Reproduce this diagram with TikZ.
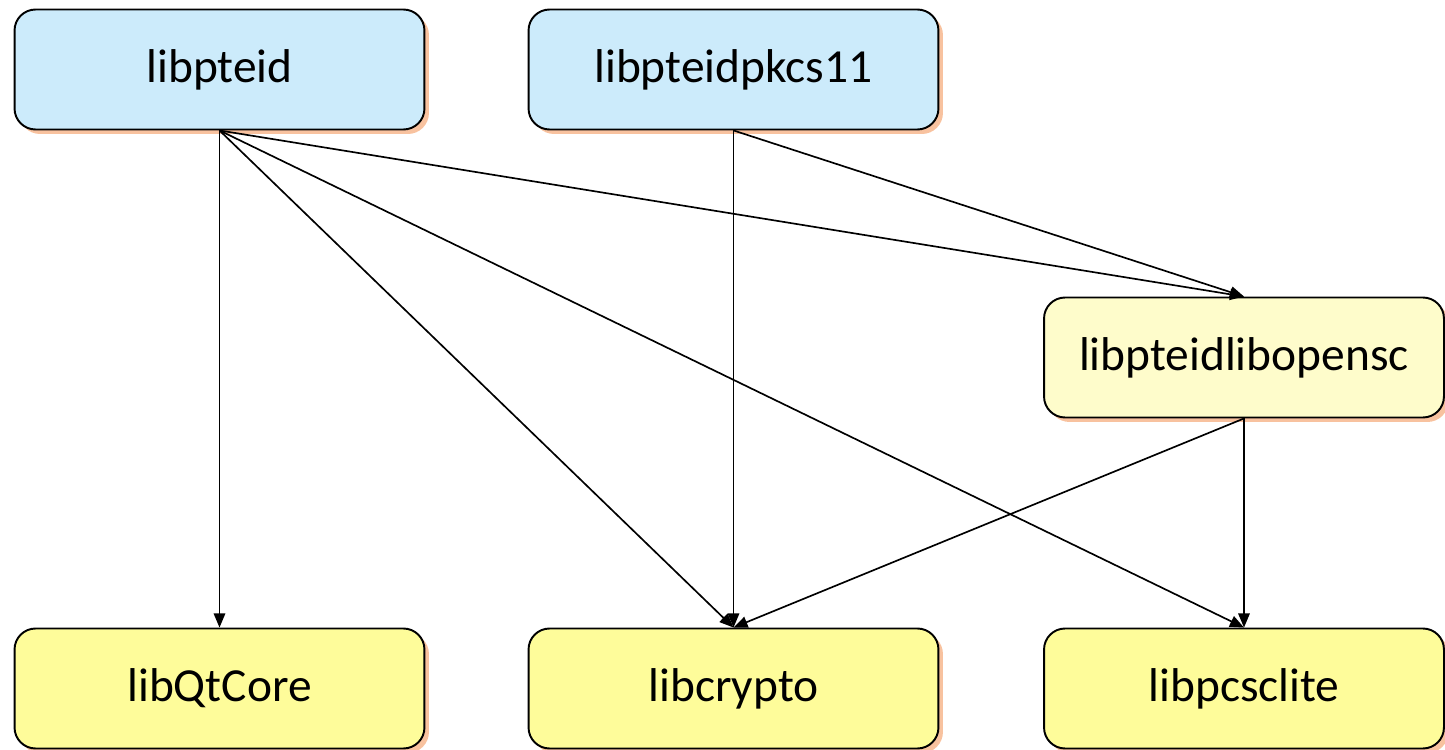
\documentclass[tikz,border=0pt]{standalone}
\usepackage{fontspec}
\setmainfont{Carlito}
\usetikzlibrary{arrows.meta,shadows}
\definecolor{bluefill}{HTML}{CCEBFB}
\definecolor{paleyellow}{HTML}{FEFCCB}
\definecolor{brightyellow}{HTML}{FEFC9A}
\definecolor{shadoworange}{HTML}{F5A26B}
\tikzset{
  box/.style={draw=black, line width=1.1pt, rounded corners=0.42cm,
    minimum width=8.2cm, minimum height=2.4cm, inner sep=0pt,
    font=\fontsize{27}{32}\selectfont,
    drop shadow={shadow xshift=0.09cm, shadow yshift=-0.09cm, fill=shadoworange, opacity=0.65}},
  topbox/.style={box, fill=bluefill},
  midbox/.style={box, fill=paleyellow, minimum width=8.0cm},
  botbox/.style={box, fill=brightyellow},
  dep/.style={draw=black, line width=0.95pt, -{Triangle[length=8pt,width=6.5pt]}}
}
\begin{document}
\begin{tikzpicture}[x=0.02cm,y=-0.02cm]
\useasboundingbox (0,0) rectangle (1445,750);
\node[topbox] (pteid) at (219.5,69.5) {libpteid};
\node[topbox] (pkcs) at (733.5,69.5) {libpteidpkcs11};
\node[midbox] (opensc) at (1244,357.5) {libpteidlibopensc};
\node[botbox] (qt) at (219.5,688.5) {libQtCore};
\node[botbox] (crypto) at (733.5,688.5) {libcrypto};
\node[botbox, minimum width=8.0cm] (pcsc) at (1244,688.5) {libpcsclite};
\draw[dep] (pteid.south) -- (qt.north);
\draw[dep] (pteid.south) -- (crypto.north);
\draw[dep] (pteid.south) -- (pcsc.north);
\draw[dep] (pteid.south) -- (opensc.north);
\draw[dep] (pkcs.south) -- (crypto.north);
\draw[dep] (pkcs.south) -- (opensc.north);
\draw[dep] (opensc.south) -- (crypto.north);
\draw[dep] (opensc.south) -- (pcsc.north);
\end{tikzpicture}
\end{document}
